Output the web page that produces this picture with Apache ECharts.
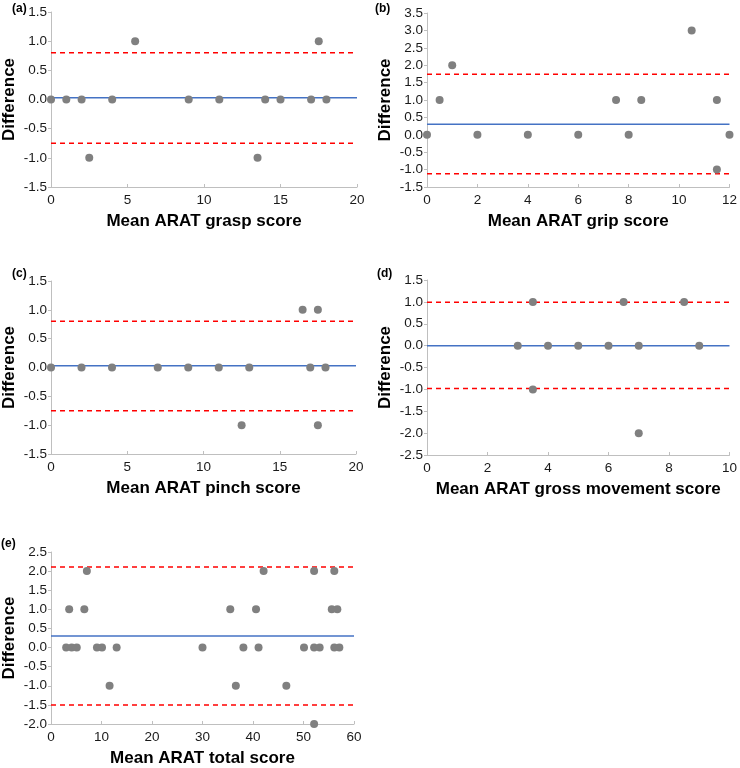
<!DOCTYPE html>
<html>
<head>
<meta charset="utf-8">
<script src="https://cdn.jsdelivr.net/npm/echarts@6/dist/echarts.min.js"></script>
<style>
  html, body { margin: 0; padding: 0; background: #fff; }
  #chart { width: 740px; height: 768px; }
</style>
</head>
<body>
<div id="chart"></div>
<script>
// Bland-Altman points [mean, difference] for each ARAT subscale
var graspPoints = [[0,0],[1,0],[2,0],[2.5,-1],[4,0],[5.5,1],[9,0],[11,0],[13.5,-1],[14,0],[15,0],[17,0],[17.5,1],[18,0]];
var gripPoints = [[0,0],[0.5,1],[1,2],[2,0],[4,0],[6,0],[7.5,1],[8,0],[8.5,1],[10.5,3],[11.5,1],[11.5,-1],[12,0]];
var pinchPoints = [[0,0],[2,0],[4,0],[7,0],[9,0],[11,0],[12.5,-1],[13,0],[16.5,1],[17,0],[17.5,1],[17.5,-1],[18,0]];
var grossPoints = [[3,0],[3.5,1],[3.5,-1],[4,0],[5,0],[6,0],[6.5,1],[7,0],[7,-2],[8.5,1],[9,0]];
var totalPoints = [[3,0],[3.6,1],[4.1,0],[5.1,0],[6.6,1],[7.1,2],[9.1,0],[10.1,0],[11.6,-1],[13,0],
  [30,0],[35.5,1],[36.6,-1],[38.1,0],[40.6,1],[41.1,0],[42.1,2],[46.6,-1],[50.1,0],
  [52.1,2],[52.1,0],[52.1,-2],[53.2,0],[55.6,1],[56.1,2],[56.1,0],[56.7,1],[57.1,0]];

// mean difference and limits of agreement, order: grasp, grip, pinch, gross, total
var meanDiff = [0.03, 0.3, 0.03, 0.0, 0.3];
var upperLoA = [0.8, 1.74, 0.8, 0.99, 2.11];
var lowerLoA = [-0.75, -1.12, -0.75, -0.98, -1.5];

var panelTags = ['(a)', '(b)', '(c)', '(d)', '(e)'];
var xTitles = ['Mean ARAT grasp score', 'Mean ARAT grip score', 'Mean ARAT pinch score',
  'Mean ARAT gross movement score', 'Mean ARAT total score'];
var xRanges = [[0, 20, 5], [0, 12, 2], [0, 20, 5], [0, 10, 2], [0, 60, 10]];
var yRanges = [[-1.5, 1.5, 0.5], [-1.5, 3.5, 0.5], [-1.5, 1.5, 0.5], [-2.5, 1.5, 0.5], [-2, 2.5, 0.5]];

var allPoints = [graspPoints, gripPoints, pinchPoints, grossPoints, totalPoints];

// grid boxes in px
var boxes = [
  {left: 51, top: 12, width: 306, height: 175},
  {left: 427, top: 13, width: 306, height: 174},
  {left: 51, top: 281, width: 305, height: 173},
  {left: 427, top: 280, width: 306, height: 175},
  {left: 50, top: 552, width: 304, height: 175}
];
var tagPos = [[12, 3], [375, 3], [12, 268], [377, 268], [1, 538]];

var font = 'Arial, "Liberation Sans", sans-serif';
var grids = [], xAxes = [], yAxes = [], series = [], graphics = [];

for (var i = 0; i < 5; i++) {
  grids.push(boxes[i]);
  var xr = xRanges[i], yr = yRanges[i];
  xAxes.push({
    gridIndex: i, type: 'value', min: xr[0], max: xr[1], interval: xr[2],
    name: xTitles[i], nameLocation: 'middle', nameGap: 26,
    nameTextStyle: {fontSize: 17, fontWeight: 'bold', color: '#000', fontFamily: font},
    axisLine: {onZero: false, lineStyle: {color: '#bfbfbf'}},
    axisTick: {show: true, inside: true, length: 3, lineStyle: {color: '#bfbfbf'}},
    axisLabel: {fontSize: 13.5, color: '#1a1a1a', fontFamily: font, margin: 6},
    splitLine: {show: false}
  });
  yAxes.push({
    gridIndex: i, type: 'value', min: yr[0], max: yr[1], interval: yr[2],
    name: 'Difference', nameLocation: 'middle', nameGap: 33, nameRotate: 90,
    nameTextStyle: {fontSize: 17, fontWeight: 'bold', color: '#000', fontFamily: font},
    axisLine: {show: true, onZero: false, lineStyle: {color: '#bfbfbf'}},
    axisTick: {show: true, length: 3, lineStyle: {color: '#bfbfbf'}},
    axisLabel: {fontSize: 13.5, color: '#1a1a1a', fontFamily: font, margin: 4,
      formatter: function (v) { return v.toFixed(1); }},
    splitLine: {show: false}
  });
  series.push({
    type: 'line', xAxisIndex: i, yAxisIndex: i, symbol: 'none', silent: true, z: 2,
    data: [[xr[0], upperLoA[i]], [xr[1], upperLoA[i]]],
    lineStyle: {color: '#ff0000', width: 1.5, type: [5, 4]}
  });
  series.push({
    type: 'line', xAxisIndex: i, yAxisIndex: i, symbol: 'none', silent: true, z: 2,
    data: [[xr[0], lowerLoA[i]], [xr[1], lowerLoA[i]]],
    lineStyle: {color: '#ff0000', width: 1.5, type: [5, 4]}
  });
  series.push({
    type: 'line', xAxisIndex: i, yAxisIndex: i, symbol: 'none', silent: true, z: 2,
    data: [[xr[0], meanDiff[i]], [xr[1], meanDiff[i]]],
    lineStyle: {color: '#4472c4', width: 1.5}
  });
  series.push({
    type: 'scatter', xAxisIndex: i, yAxisIndex: i, symbolSize: 8, z: 3,
    data: allPoints[i],
    itemStyle: {color: '#808080', opacity: 1}
  });
  graphics.push({
    type: 'text', left: tagPos[i][0], top: tagPos[i][1],
    style: {text: panelTags[i], fontSize: 12, fontWeight: 'bold', fill: '#000', fontFamily: font}
  });
}

var chart = echarts.init(document.getElementById('chart'));
chart.setOption({
  animation: false,
  backgroundColor: '#fff',
  grid: grids,
  xAxis: xAxes,
  yAxis: yAxes,
  series: series,
  graphic: graphics
});
</script>
</body>
</html>
